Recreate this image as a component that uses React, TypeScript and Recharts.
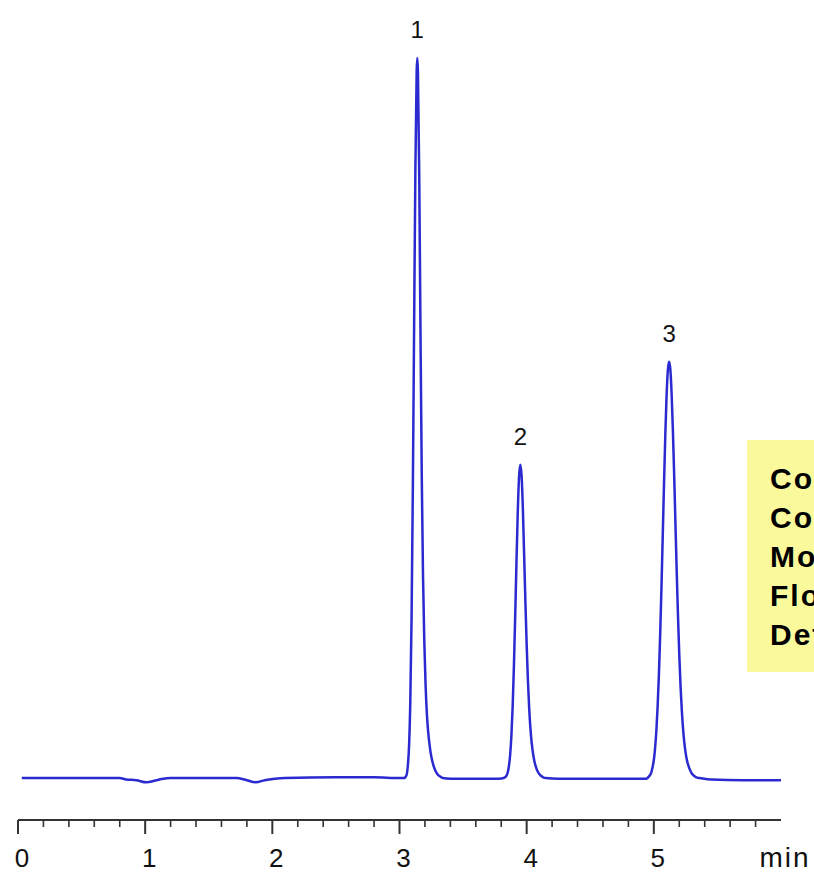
import React from "react";
import { LineChart, Line, XAxis, YAxis, ReferenceDot } from "recharts";

// chromatogram trace, [time (min), signal]
const baselineStart: [number, number][] = [
  [0.03, 0], [0.4, 0], [0.8, 0], [0.85, -0.2], [0.93, -0.3], [1.01, -0.6],
  [1.08, -0.35], [1.13, -0.15], [1.2, 0], [1.5, 0], [1.72, 0], [1.78, -0.2],
  [1.87, -0.6], [1.94, -0.3], [2.02, -0.1], [2.1, 0], [2.5, 0.1], [2.8, 0.1],
  [3.0, 0],
];

const peak1: [number, number][] = [
  [3.035, 0], [3.055, 0.4], [3.065, 1.6], [3.075, 4.4], [3.085, 10.7],
  [3.095, 22.3], [3.105, 40.4], [3.115, 63], [3.125, 84.7], [3.135, 98.2],
  [3.14, 100], [3.145, 98], [3.155, 84], [3.165, 62], [3.175, 42],
  [3.185, 28], [3.195, 19], [3.205, 13], [3.215, 9], [3.225, 6.5],
  [3.235, 4.8], [3.245, 3.5], [3.26, 2.2], [3.28, 1.1], [3.3, 0.5],
  [3.32, 0.2], [3.34, 0],
];

const baselineMid1: [number, number][] = [[3.4, -0.1], [3.6, -0.1], [3.78, -0.1]];

const peak2: [number, number][] = [
  [3.82, 0], [3.83, 0.1], [3.84, 0.3], [3.85, 0.7], [3.86, 1.6], [3.87, 3.2],
  [3.88, 5.9], [3.89, 10], [3.9, 15.7], [3.91, 22.6], [3.92, 30.1],
  [3.93, 36.9], [3.94, 41.8], [3.95, 43.5], [3.96, 42], [3.97, 37.5],
  [3.98, 31], [3.99, 24.5], [4.0, 18.5], [4.01, 13.5], [4.02, 9.6],
  [4.03, 6.8], [4.04, 4.8], [4.05, 3.4], [4.06, 2.4], [4.07, 1.7],
  [4.09, 0.8], [4.11, 0.35], [4.13, 0.1], [4.15, 0],
];

const baselineMid2: [number, number][] = [[4.25, -0.1], [4.6, -0.1], [4.94, -0.1]];

const peak3: [number, number][] = [
  [4.95, 0], [4.96, 0.2], [4.97, 0.4], [4.98, 0.8], [4.99, 1.5], [5.0, 2.5],
  [5.01, 4.2], [5.02, 6.6], [5.03, 10], [5.04, 14.4], [5.05, 20],
  [5.06, 26.5], [5.07, 33.6], [5.08, 40.8], [5.09, 47.5], [5.1, 53],
  [5.11, 56.6], [5.12, 57.8], [5.13, 56.7], [5.14, 53.3], [5.15, 48.2],
  [5.16, 42], [5.17, 35.3], [5.18, 28.6], [5.19, 22.5], [5.2, 17.2],
  [5.21, 12.8], [5.22, 9.4], [5.23, 6.8], [5.24, 4.9], [5.25, 3.5],
  [5.26, 2.5], [5.28, 1.3], [5.3, 0.6], [5.32, 0.25], [5.34, 0.05], [5.36, 0],
];

const baselineEnd: [number, number][] = [[5.45, -0.2], [5.7, -0.3], [6.0, -0.3]];

const peakLabels = [
  { name: "1", t: 3.14, h: 100 },
  { name: "2", t: 3.95, h: 43.5 },
  { name: "3", t: 5.12, h: 57.8 },
];

const tickValues = [
  0, 0.2, 0.4, 0.6, 0.8, 1, 1.2, 1.4, 1.6, 1.8, 2, 2.2, 2.4, 2.6, 2.8, 3,
  3.2, 3.4, 3.6, 3.8, 4, 4.2, 4.4, 4.6, 4.8, 5, 5.2, 5.4, 5.6, 5.8, 6,
];
const majorLabels: Record<number, string> = {
  0: "0", 1: "1", 2: "2", 3: "3", 4: "4", 5: "5", 6: "min",
};

const conditions = ["Column:", "Column temp.:", "Mobile phase:", "Flow rate:", "Detection:"];

const data = [
  ...baselineStart, ...peak1, ...baselineMid1, ...peak2,
  ...baselineMid2, ...peak3, ...baselineEnd,
].map(([t, s]) => ({ t, s }));

const FONT = "'Liberation Sans', Arial, sans-serif";

const TimeTick = (props: any) => {
  const { x, y, payload } = props;
  const v: number = payload.value;
  const label = majorLabels[v];
  const isMajor = label !== undefined;
  const isUnit = v === 6;
  return (
    <g>
      {!isUnit && (
        <line
          x1={x}
          x2={x}
          y1={y}
          y2={y + (isMajor ? 14 : 7)}
          stroke="#333"
          strokeWidth={isMajor ? 2 : 1.6}
        />
      )}
      {isMajor && (
        <text
          x={x + 4}
          y={y + 47}
          textAnchor="middle"
          fontSize={isUnit ? 28 : 26}
          letterSpacing={isUnit ? 2 : 0}
          fontFamily={FONT}
          fill="#111"
        >
          {label}
        </text>
      )}
    </g>
  );
};

export default function App() {
  return (
    <div
      style={{
        position: "absolute",
        left: 0,
        top: 0,
        width: 814,
        height: 873,
        overflow: "hidden",
        background: "#fff",
      }}
    >
      <LineChart
        width={814}
        height={873}
        data={data}
        margin={{ top: 22, right: 33, left: 18, bottom: 3 }}
      >
        <XAxis
          dataKey="t"
          type="number"
          domain={[0, 6]}
          ticks={tickValues}
          interval={0}
          allowDataOverflow
          height={50}
          tickSize={0}
          tickMargin={0}
          tickLine={false}
          axisLine={{ stroke: "#333", strokeWidth: 2 }}
          tick={<TimeTick />}
        />
        <YAxis type="number" domain={[-5.83, 105]} allowDataOverflow hide />
        <Line
          type="monotone"
          dataKey="s"
          stroke="#2a2ad0"
          strokeWidth={2.5}
          dot={false}
          isAnimationActive={false}
        />
        {peakLabels.map((p) => (
          <ReferenceDot
            key={p.name}
            x={p.t}
            y={p.h}
            r={0}
            fill="none"
            stroke="none"
            label={{
              value: p.name,
              position: "top",
              offset: 20,
              fontSize: 24,
              fontFamily: FONT,
              fill: "#111",
            }}
          />
        ))}
      </LineChart>
      <div
        style={{
          position: "absolute",
          left: 747,
          top: 440,
          width: 67,
          height: 232,
          background: "#fafa9c",
          overflow: "hidden",
          boxSizing: "border-box",
          paddingTop: 19,
          paddingLeft: 23,
          fontFamily: FONT,
          fontWeight: "bold",
          fontSize: 30,
          letterSpacing: 2,
          lineHeight: "39px",
          color: "#000",
          whiteSpace: "nowrap",
        }}
      >
        {conditions.map((c) => (
          <div key={c}>{c}</div>
        ))}
      </div>
    </div>
  );
}
